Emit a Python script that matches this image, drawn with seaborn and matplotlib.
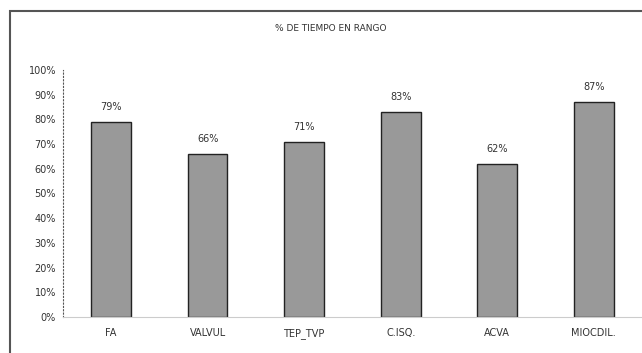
import matplotlib
matplotlib.use('Agg')
import matplotlib.pyplot as plt
import seaborn as sns
import pandas as pd
from matplotlib.patches import Rectangle

categorias = ['FA', 'VALVUL', 'TEP_TVP', 'C.ISQ.', 'ACVA', 'MIOCDIL.']
valores = [79, 66, 71, 83, 62, 87]
ticks_y = [0, 10, 20, 30, 40, 50, 60, 70, 80, 90, 100]

df = pd.DataFrame({'cat': categorias, 'val': valores})

sns.set_style('white')
plt.rcParams['font.family'] = ['DejaVu Sans']

fig = plt.figure(figsize=(6.42, 3.53), dpi=100)
ax = fig.add_axes([0.098, 0.102, 0.902, 0.700])

sns.barplot(x='cat', y='val', data=df, color='#999999', saturation=1,
            width=0.41, edgecolor='#222222', linewidth=1.0, ax=ax)

for i, v in enumerate(valores):
    ax.text(i, v + 4, f'{v}%', ha='center', va='bottom', fontsize=7, color='#333333')

ax.set_ylim(0, 100)
ax.set_xlim(-0.5, 5.5)
ax.set_yticks(ticks_y)
ax.set_yticklabels([f'{t}%' for t in ticks_y], fontsize=7, color='#333333')
ax.tick_params(axis='x', labelsize=7, colors='#333333', length=0, pad=8)
ax.tick_params(axis='y', length=2, pad=3)
ax.set_xlabel('')
ax.set_ylabel('')

for s in ['top', 'right']:
    ax.spines[s].set_visible(False)
ax.spines['left'].set_linestyle((0, (1, 2)))
ax.spines['left'].set_color('#555555')
ax.spines['left'].set_linewidth(0.8)
ax.spines['bottom'].set_color('#cccccc')
ax.spines['bottom'].set_linewidth(0.8)

fig.text(0.515, 0.92, '% DE TIEMPO EN RANGO', ha='center', va='center', fontsize=6.5, color='#333333')

# outer frame of the chart
fig.patches.append(Rectangle((0.016, -0.01), 1.0, 0.98, transform=fig.transFigure,
                             fill=False, edgecolor='#555555', linewidth=1.5))

fig.savefig('out.png', dpi=100)
